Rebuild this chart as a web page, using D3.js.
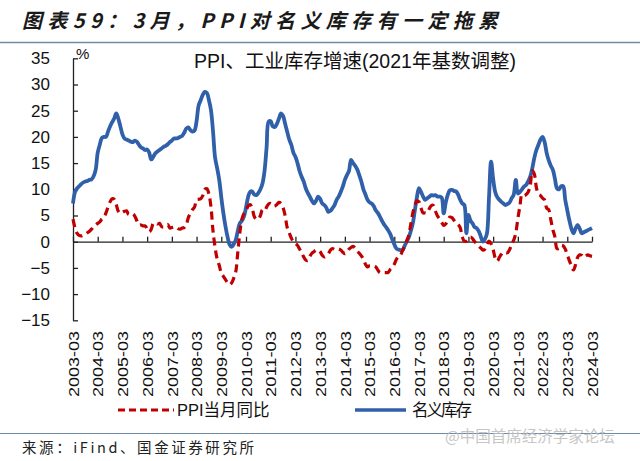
<!DOCTYPE html>
<html><head><meta charset="utf-8">
<script src="https://cdn.jsdelivr.net/npm/d3@7"></script>
<style>
body{margin:0;background:#fff;}
svg{display:block;font-family:"Liberation Sans",Arial,sans-serif;}
</style></head>
<body>
<svg id="c" width="640" height="461"></svg>
<script>
// Monthly data from 2003-03 to 2024-03
const tickLabels = ["2003-03","2004-03","2005-03","2006-03","2007-03","2008-03","2009-03","2010-03","2011-03","2012-03","2013-03","2014-03","2015-03","2016-03","2017-03","2018-03","2019-03","2020-03","2021-03","2022-03","2023-03","2024-03"];
const yTicks = [-15,-10,-5,0,5,10,15,20,25,30,35];

// PPI当月同比 (%), 2003-03 .. 2024-03
const ppi = [
  4.3,2.6,1.6,1.2,1.1,1.2,1.4,1.7,2.0,2.4,            // 2003 Mar-Dec
  2.9,3.2,3.5,3.8,4.3,4.6,5.5,6.6,7.6,8.2,8.1,7.1,    // 2004
  5.8,5.4,5.6,5.8,5.9,5.2,5.2,5.3,4.9,4.0,3.2,3.2,    // 2005
  3.0,3.0,2.5,1.9,2.4,3.5,3.6,3.4,3.5,2.9,2.8,3.1,    // 2006
  3.3,2.6,2.7,2.8,2.8,2.5,2.4,2.6,2.7,3.2,4.6,5.4,    // 2007
  6.1,6.6,8.0,8.1,8.2,8.8,10.0,10.1,9.1,6.6,2.0,-1.1, // 2008
  -3.3,-4.5,-6.0,-6.6,-7.2,-7.8,-8.2,-7.9,-7.0,-5.8,-2.1,1.7, // 2009
  4.3,5.4,5.9,6.8,7.1,6.4,4.8,4.3,4.3,5.0,6.1,5.9,    // 2010
  6.6,7.2,7.3,6.8,6.8,7.1,7.5,7.3,6.5,5.0,2.7,1.7,    // 2011
  0.7,0.0,-0.3,-0.7,-1.4,-2.1,-2.9,-3.5,-3.6,-2.8,-2.2,-1.9, // 2012
  -1.6,-1.6,-1.9,-2.6,-2.9,-2.7,-2.3,-1.6,-1.3,-1.5,-1.4,-1.4, // 2013
  -1.6,-2.0,-2.3,-2.0,-1.4,-1.1,-0.9,-1.2,-1.8,-2.2,-2.7,-3.3, // 2014
  -4.3,-4.8,-4.6,-4.6,-4.6,-4.8,-5.4,-5.9,-5.9,-5.9,-5.9,-5.9, // 2015
  -5.3,-4.9,-4.3,-3.4,-2.8,-2.6,-1.7,-0.8,0.1,1.2,3.3,5.5,     // 2016
  6.9,7.8,7.6,6.4,5.5,5.5,5.5,6.3,6.9,6.9,5.8,4.9,    // 2017
  4.3,3.7,3.1,3.4,4.1,4.7,4.6,4.1,3.6,3.3,2.7,0.9,    // 2018
  0.1,0.1,0.4,0.9,0.6,0.0,-0.3,-0.8,-1.2,-1.6,-1.4,-0.5, // 2019
  0.1,-0.4,-1.5,-3.1,-3.7,-3.0,-2.4,-2.0,-2.1,-2.1,-1.5,-0.4, // 2020
  0.3,1.7,4.4,6.8,9.0,8.8,9.0,9.5,10.7,13.5,12.9,10.3, // 2021
  9.1,8.8,8.3,8.0,6.4,6.1,4.2,2.3,0.9,-1.3,-1.3,-0.7, // 2022
  -0.8,-1.4,-2.5,-3.6,-4.6,-5.4,-4.4,-3.0,-2.5,-2.6,-3.0,-2.7, // 2023
  -2.5,-2.7,-2.8                                      // 2024 Jan-Mar
];

// 名义库存 (%), 2003-03 .. 2024-03
const inventory = [
  7.3,9.5,10.2,10.6,11.0,11.3,11.5,11.6,11.8,11.9,    // 2003 Mar-Dec
  12.5,13.7,17.0,18.5,19.8,20.0,20.0,21.0,22.0,22.8,23.5,24.5, // 2004
  23.5,22.0,20.5,19.7,19.5,19.3,19.1,19.0,19.3,19.1,18.5,18.0, // 2005
  17.8,17.5,17.6,17.0,15.7,16.2,16.9,17.2,17.5,17.8,18.1,18.3, // 2006
  18.6,19.0,19.3,19.7,19.7,19.8,20.0,20.2,20.8,21.6,21.8,21.3, // 2007
  21.0,21.2,23.0,26.0,27.0,28.0,28.6,28.4,27.0,25.1,21.0,16.0, // 2008
  14.0,11.8,8.5,5.5,3.0,1.0,-0.5,-1.0,-0.5,0.3,2.0,3.5,        // 2009
  4.0,4.8,6.5,8.5,9.5,9.6,9.0,8.9,9.3,10.0,11.1,13.5,         // 2010
  18.0,22.9,23.0,22.0,21.9,22.5,23.5,24.5,24.0,22.5,21.0,19.5, // 2011
  18.5,17.0,16.2,15.0,13.5,12.4,11.5,10.2,9.3,8.6,7.8,7.3,     // 2012
  7.8,8.6,8.2,7.3,7.0,6.5,5.7,5.9,6.4,7.0,8.0,8.6,             // 2013
  9.5,10.5,11.8,12.7,13.5,15.6,15.0,14.5,13.8,12.7,11.5,10.0,  // 2014
  9.0,8.0,7.5,7.3,6.8,6.0,5.5,4.8,4.0,3.3,2.8,2.2,             // 2015
  1.5,0.5,-0.5,-1.3,-1.5,-1.6,-1.6,-0.8,0.0,0.8,2.0,3.5,       // 2016
  6.0,8.5,10.2,9.5,8.6,8.0,8.3,8.6,8.9,8.8,8.9,8.6,            // 2017
  8.6,8.4,5.4,7.5,9.0,9.8,9.9,9.7,9.6,9.0,8.0,7.3,             // 2018
  7.0,1.6,5.1,4.0,3.5,2.8,2.6,2.0,1.0,0.0,0.5,1.6,             // 2019
  8.5,15.3,12.0,9.5,8.5,8.0,7.6,7.3,7.0,7.2,7.5,8.3,           // 2020
  9.0,11.8,9.2,9.5,10.0,10.5,10.8,11.5,12.4,14.0,16.0,17.5,    // 2021
  18.5,19.5,20.0,19.0,16.9,15.5,14.5,13.7,12.0,10.2,10.0,10.6, // 2022
  10.6,8.0,6.0,4.1,2.5,1.6,2.5,3.2,2.5,1.6,1.8,2.0,            // 2023
  2.2,2.4,2.6                                                  // 2024 Jan-Mar
];

const seriesNames = ["PPI当月同比","名义库存"];
const colors = {ppi:"#c00000", inv:"#3060aa"};

const svg = d3.select("#c");
const n = ppi.length; // 253

const x = d3.scaleLinear().domain([0, n-1]).range([73, 592]);
const y = d3.scaleLinear().domain([-15, 35]).range([320.3, 58.3]);

// Header title
svg.append("text").attr("x",22).attr("y",28)
  .attr("font-family","'Noto Sans CJK SC',sans-serif").attr("font-size",20)
  .attr("font-weight","bold").attr("font-style","italic").attr("fill","#1a1a1a")
  .attr("textLength",476).attr("lengthAdjust","spacing")
  .text("图表59：3月，PPI对名义库存有一定拖累");
svg.append("line").attr("x1",0).attr("x2",640).attr("y1",42.5).attr("y2",42.5)
  .attr("stroke","#6f8ca6").attr("stroke-width",1.5);

// Chart title
svg.append("text").attr("x",355).attr("y",68).attr("text-anchor","middle")
  .attr("font-family","'Liberation Sans','Noto Sans CJK SC',sans-serif").attr("font-size",19.5).attr("fill","#111")
  .text("PPI、工业库存增速(2021年基数调整)");

// % label
svg.append("text").attr("x",76).attr("y",59).attr("font-size",15).attr("fill","#111").text("%");

// Y axis
const yAxis = d3.axisLeft(y).tickValues(yTicks).tickSizeInner(-5).tickSizeOuter(0).tickPadding(23);
const gy = svg.append("g").attr("transform","translate(73,0)").call(yAxis);
gy.selectAll("text").attr("font-size",17).attr("fill","#111").attr("font-family","'Liberation Sans',Arial,sans-serif");
gy.selectAll("line,path").attr("stroke","#222").attr("stroke-width",1.3);

// X axis at zero line (ticks upward)
const tickIdx = tickLabels.map((d,i)=>i*12);
const xAxis0 = d3.axisTop(x).tickValues(tickIdx).tickSizeInner(5).tickSizeOuter(0).tickFormat("");
const gx0 = svg.append("g").attr("transform",`translate(0,${y(0)})`).call(xAxis0);
gx0.selectAll("line,path").attr("stroke","#222").attr("stroke-width",1.3);

// X labels (rotated), at bottom
const xAxisLbl = d3.axisBottom(x).tickValues(tickIdx).tickSize(0).tickFormat((d,i)=>tickLabels[i]);
const gxl = svg.append("g").attr("transform","translate(0,331)").call(xAxisLbl);
gxl.select(".domain").remove();
gxl.selectAll("text")
  .attr("font-size",15).attr("fill","#111").attr("font-family","'Liberation Sans',Arial,sans-serif")
  .attr("text-anchor","end").attr("transform","rotate(-90)")
  .attr("x",0).attr("y",0).attr("dy","0.35em")
  .attr("textLength",66).attr("lengthAdjust","spacingAndGlyphs");

// Lines
const line = d3.line().x((d,i)=>x(i)).y(d=>y(d)).curve(d3.curveCatmullRom.alpha(0.5));
svg.append("path").datum(inventory).attr("d",line).attr("fill","none")
  .attr("stroke",colors.inv).attr("stroke-width",3.8).attr("stroke-linejoin","round");
svg.append("path").datum(ppi).attr("d",line).attr("fill","none")
  .attr("stroke",colors.ppi).attr("stroke-width",3.2).attr("stroke-dasharray","8,5");

// Legend
const lg = svg.append("g");
lg.append("line").attr("x1",118).attr("x2",174).attr("y1",410).attr("y2",410)
  .attr("stroke",colors.ppi).attr("stroke-width",3.2).attr("stroke-dasharray","7,4");
lg.append("text").attr("x",177).attr("y",416).attr("font-size",16.5).attr("fill","#111")
  .attr("font-family","'Liberation Sans','Noto Sans CJK SC',sans-serif").text(seriesNames[0]);
lg.append("line").attr("x1",355).attr("x2",406).attr("y1",410).attr("y2",410)
  .attr("stroke",colors.inv).attr("stroke-width",3.4);
lg.append("text").attr("x",412).attr("y",416).attr("font-size",16.5).attr("fill","#111")
  .attr("font-family","'Noto Sans CJK SC',sans-serif")
  .attr("textLength",60).attr("lengthAdjust","spacing").text(seriesNames[1]);

// Bottom separator and source
svg.append("line").attr("x1",0).attr("x2",640).attr("y1",433.5).attr("y2",433.5)
  .attr("stroke","#6f8ca6").attr("stroke-width",1.2);
svg.append("text").attr("x",22).attr("y",453).attr("font-size",14.5).attr("fill","#222")
  .attr("font-family","'Noto Sans CJK SC',sans-serif")
  .attr("textLength",232).attr("lengthAdjust","spacing").text("来源：iFind、国金证券研究所");
// Watermark
svg.append("text").attr("x",445).attr("y",442).attr("font-size",15.5).attr("fill","#bdbdbd").attr("opacity",0.85)
  .attr("font-family","'Noto Sans CJK SC',sans-serif").text("@中国首席经济学家论坛");
</script>
</body></html>
